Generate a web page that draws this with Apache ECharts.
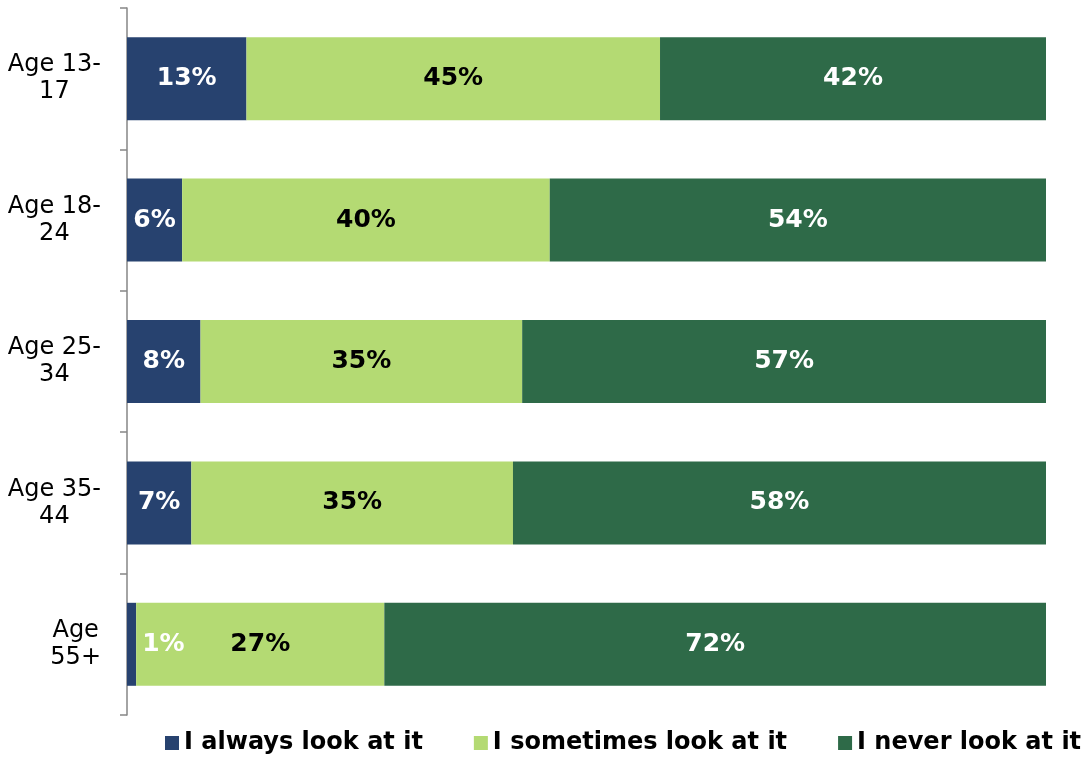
<!DOCTYPE html>
<html>
<head>
<meta charset="utf-8">
<script src="https://cdn.jsdelivr.net/npm/echarts@6/dist/echarts.min.js"></script>
<style>
html,body{margin:0;padding:0;background:#fff;}
#chart{width:1089px;height:758px;}
</style>
</head>
<body>
<div id="chart"></div>
<script>
var categories = ['Age 13-\n17', 'Age 18-\n24', 'Age 25-\n34', 'Age 35-\n44', 'Age\n55+'];
var seriesNames = ['I always look at it', 'I sometimes look at it', 'I never look at it'];
var always = [13, 6, 8, 7, 1];
var sometimes = [45, 40, 35, 35, 27];
var never = [42, 54, 57, 58, 72];
var colors = ['#27426f', '#b4da73', '#2e6a48'];

var FONT = '"DejaVu Sans", Verdana, sans-serif';

function mkData(arr, isFirst) {
  return arr.map(function (v) {
    if (isFirst && v < 3) {
      return { value: v, label: { position: 'right', distance: 6 } };
    }
    return v;
  });
}

function mkSeries(i, arr, labelColor) {
  return {
    name: seriesNames[i],
    type: 'bar',
    stack: 'total',
    barWidth: 83,
    data: mkData(arr, i === 0),
    itemStyle: { color: colors[i] },
    label: {
      show: true,
      position: 'inside',
      formatter: '{c}%',
      color: labelColor,
      fontFamily: FONT,
      fontWeight: 'bold',
      fontSize: 25
    }
  };
}

var chart = echarts.init(document.getElementById('chart'), null, { renderer: 'canvas' });
chart.setOption({
  animation: false,
  backgroundColor: '#ffffff',
  grid: { left: 127, right: 43, top: 8, bottom: 43, containLabel: false },
  xAxis: { type: 'value', min: 0, max: 100, show: false },
  yAxis: {
    type: 'category',
    data: categories,
    inverse: true,
    axisLine: { show: true, lineStyle: { color: '#868686', width: 1.5 } },
    axisTick: { show: true, length: 7, lineStyle: { color: '#868686', width: 1.5 } },
    axisLabel: {
      margin: 26,
      align: 'right',
      formatter: function (v) {
        return v.split('\n').map(function (s) { return '{c|' + s + '}'; }).join('\n');
      },
      rich: {
        c: {
          align: 'center',
          fontFamily: FONT,
          fontSize: 24,
          lineHeight: 27,
          color: '#000'
        }
      }
    },
    splitLine: { show: false }
  },
  legend: {
    left: 165,
    top: 731,
    padding: 0,
    itemWidth: 14,
    itemHeight: 14,
    itemGap: 51,
    icon: 'rect',
    textStyle: { fontFamily: FONT, fontWeight: 'bold', fontSize: 24, color: '#000' },
    data: seriesNames
  },
  series: [
    mkSeries(0, always, '#ffffff'),
    mkSeries(1, sometimes, '#000000'),
    mkSeries(2, never, '#ffffff')
  ]
});
</script>
</body>
</html>
